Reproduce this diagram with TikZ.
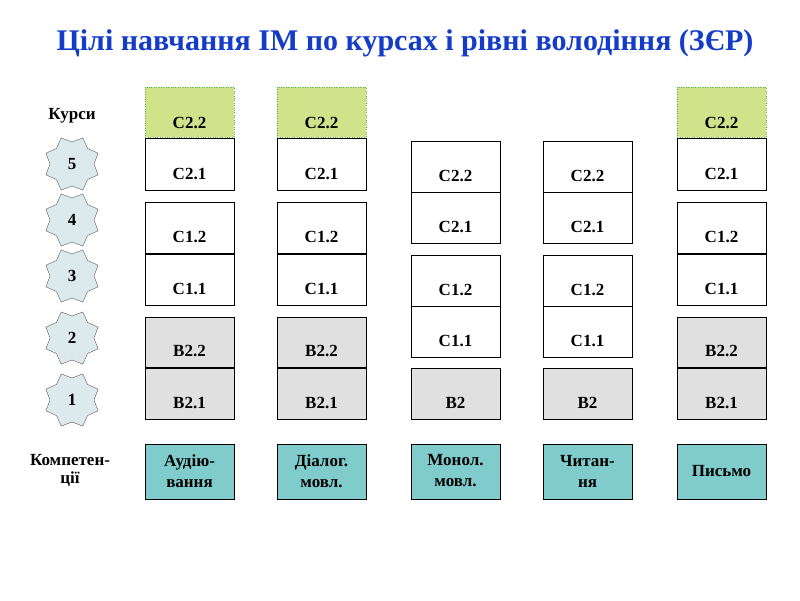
\documentclass[tikz,border=0pt]{standalone}
\usepackage{fontspec}
\setmainfont{Liberation Serif}
\usetikzlibrary{shapes.geometric}
\definecolor{tblue}{RGB}{20,60,200}
\definecolor{lgreen}{RGB}{208,226,138}
\definecolor{lgray}{RGB}{224,224,224}
\definecolor{teal2}{RGB}{128,204,204}
\definecolor{starf}{RGB}{220,234,238}
\begin{document}
\begin{tikzpicture}[x=1pt,y=-1pt,
  cell/.style={draw=black,line width=0.6pt},
  lab/.style={font=\bfseries\fontsize{17}{19}\selectfont},
  starn/.style={star,star points=8,star point ratio=0.78,minimum size=44pt,inner sep=0pt,draw=gray!70!black,fill=starf,font=\bfseries\fontsize{17}{18}\selectfont}]
\useasboundingbox (0,0) rectangle (800,600);
\node[text=tblue,font=\bfseries\fontsize{30}{34}\selectfont] (title) at (405,43) {Цілі навчання ІМ по курсах і рівні володіння (ЗЄР)};
\node[lab] (kursy) at (72,116) {Курси};
\node[lab,align=center,font=\bfseries\fontsize{17}{18}\selectfont] (komp) at (70,470) {Компетен-\\ції};
\foreach \n/\y in {5/164,4/220,3/276,2/338,1/400}{
  \node[starn] (s\n) at (72,\y) {\n};
}
\newcommand\mycell[6]{%
  \draw[cell,fill=#4] (#1,#2) rectangle (#1+89,#3);
  \node[lab] (#6) at (#1+44.5,#3-16) {#5};}
\foreach \x/\c in {145/a,277/b,677/e}{
  \draw[draw=gray!60!green,dotted,fill=lgreen] (\x,87) rectangle (\x+89,137);
  \node[lab] (\c1) at (\x+44.5,123) {C2.2};
  \mycell{\x}{138}{190}{white}{C2.1}{\c2}
  \mycell{\x}{202}{253}{white}{C1.2}{\c3}
  \mycell{\x}{254}{305}{white}{C1.1}{\c4}
  \mycell{\x}{317}{367}{lgray}{B2.2}{\c5}
  \mycell{\x}{368}{419}{lgray}{B2.1}{\c6}
}
\foreach \x/\c in {411/c,543/d}{
  \mycell{\x}{141}{192}{white}{C2.2}{\c1}
  \mycell{\x}{192}{243}{white}{C2.1}{\c2}
  \mycell{\x}{255}{306}{white}{C1.2}{\c3}
  \mycell{\x}{306}{357}{white}{C1.1}{\c4}
  \mycell{\x}{368}{419}{lgray}{B2}{\c5}
}
\foreach \x/\t/\c in {145/{Аудію-\\вання}/a,277/{Діалог.\\мовл.}/b,411/{Монол.\\мовл.}/c,543/{Читан-\\ня}/d,677/{Письмо}/e}{
  \draw[cell,fill=teal2] (\x,444) rectangle (\x+89,499);
  \node[lab,align=center,font=\bfseries\fontsize{17}{21}\selectfont] (k\c) at (\x+44.5,471) {\t};
}
\end{tikzpicture}
\end{document}
